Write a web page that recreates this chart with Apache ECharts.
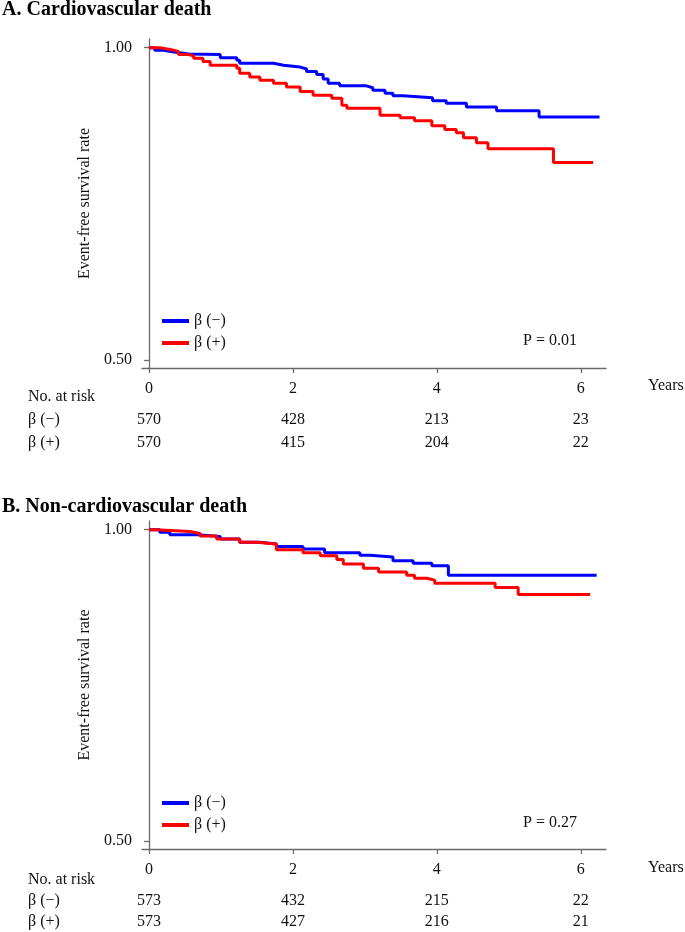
<!DOCTYPE html>
<html>
<head>
<meta charset="utf-8">
<script src="https://cdn.jsdelivr.net/npm/echarts@6/dist/echarts.min.js"></script>
<style>
html,body{margin:0;padding:0;background:#fff;}
#chart{width:685px;height:932px;}
</style>
</head>
<body>
<div id="chart"></div>
<script>
// ---------- data ----------
var groupNames = ['β (−)', 'β (+)'];
var xTicks = [0, 2, 4, 6];
var yTicks = [0.5, 1.0];

// Panel A: Cardiovascular death (time in years, survival)
var aNeg = [[0,1.0],[0.08,0.996],[0.2,0.993],[0.35,0.990],[0.55,0.989],[0.99,0.984],[1.22,0.980],[1.26,0.975],[1.73,0.972],[1.87,0.969],[2.10,0.966],[2.19,0.962],[2.33,0.957],[2.42,0.950],[2.49,0.943],[2.65,0.939],[3.02,0.936],[3.11,0.932],[3.28,0.927],[3.39,0.923],[3.53,0.920],[3.94,0.915],[4.13,0.911],[4.41,0.905],[4.83,0.899],[5.42,0.889],[6.26,0.889]];
var aPos = [[0,1.0],[0.15,0.997],[0.31,0.994],[0.41,0.989],[0.55,0.987],[0.62,0.983],[0.75,0.978],[0.85,0.972],[1.22,0.967],[1.26,0.959],[1.40,0.953],[1.54,0.948],[1.73,0.943],[1.91,0.937],[2.10,0.930],[2.28,0.924],[2.54,0.919],[2.68,0.908],[2.75,0.903],[3.21,0.892],[3.49,0.888],[3.69,0.883],[3.93,0.875],[4.11,0.869],[4.27,0.864],[4.37,0.856],[4.55,0.848],[4.71,0.838],[5.62,0.816],[6.17,0.816]];

// Panel B: Non-cardiovascular death
var bNeg = [[0,1.0],[0.15,0.996],[0.29,0.992],[0.68,0.989],[0.99,0.985],[1.26,0.980],[1.54,0.977],[1.77,0.973],[2.14,0.969],[2.44,0.963],[2.93,0.959],[3.07,0.956],[3.39,0.950],[3.67,0.946],[3.93,0.942],[4.16,0.927],[6.22,0.927]];
var bPos = [[0,1.0],[0.10,0.997],[0.57,0.994],[0.71,0.990],[0.94,0.985],[1.26,0.980],[1.50,0.977],[1.77,0.968],[2.14,0.963],[2.38,0.958],[2.61,0.952],[2.70,0.945],[2.98,0.938],[3.19,0.932],[3.58,0.927],[3.69,0.922],[3.86,0.919],[3.97,0.914],[4.81,0.907],[5.13,0.896],[6.13,0.896]];

// Numbers at risk
var riskTimes = [0, 2, 4, 6];
var riskANeg = [570, 428, 213, 23];
var riskAPos = [570, 415, 204, 22];
var riskBNeg = [573, 432, 215, 22];
var riskBPos = [573, 427, 216, 21];

var titleA = 'A. Cardiovascular death';
var titleB = 'B. Non-cardiovascular death';
var pA = 'P = 0.01';
var pB = 'P = 0.27';
var yName = 'Event-free survival rate';
var xName = 'Years';
var riskTitle = 'No. at risk';

// ---------- layout ----------
var FONT = '"Liberation Serif", "Times New Roman", serif';
var TXT = '#111111';
var AX = '#6a6a6a';
var BLUE = '#0000ff';
var RED = '#ff0000';
var XMIN = -0.097, XMAX = 6.35, YMIN = 0.487, YMAX = 1.014;
var L = 142, R = 79;

var panels = [
  {top: 39, h: 329, riskTop: 408, neg: aNeg, pos: aPos, rn: riskANeg, rp: riskAPos},
  {top: 521, h: 328, riskTop: 890, neg: bNeg, pos: bPos, rn: riskBNeg, rp: riskBPos}
];

var grid = [], xAxis = [], yAxis = [], series = [], legend = [];
panels.forEach(function (p, k) {
  var gi = k * 2;
  grid.push({left: L, right: R, top: p.top, height: p.h, containLabel: false});
  grid.push({left: L, right: R, top: p.riskTop, height: 46, containLabel: false});
  xAxis.push({
    type: 'value', gridIndex: gi, min: XMIN, max: XMAX,
    axisLine: {show: true, lineStyle: {color: AX, width: 1.3}},
    axisTick: {show: true, customValues: xTicks, length: 5, lineStyle: {color: AX, width: 1.3}},
    axisLabel: {show: true, customValues: xTicks, margin: 13, fontFamily: FONT, fontSize: 16, color: TXT},
    splitLine: {show: false}
  });
  xAxis.push({type: 'value', gridIndex: gi + 1, min: XMIN, max: XMAX, show: false});
  yAxis.push({
    type: 'value', gridIndex: gi, min: YMIN, max: YMAX,
    name: yName, nameLocation: 'middle', nameGap: 48,
    nameTextStyle: {fontFamily: FONT, fontSize: 16, color: TXT},
    axisLine: {show: true, lineStyle: {color: AX, width: 1.3}},
    axisTick: {show: true, customValues: yTicks, length: 5, lineStyle: {color: AX, width: 1.3}},
    axisLabel: {show: true, customValues: yTicks, margin: 10, fontFamily: FONT, fontSize: 16, color: TXT,
      formatter: function (v) { return Number(v).toFixed(2); }},
    splitLine: {show: false}
  });
  yAxis.push({
    type: 'category', gridIndex: gi + 1, data: groupNames, inverse: true,
    axisLine: {show: false}, axisTick: {show: false}, splitLine: {show: false},
    axisLabel: {show: true, align: 'left', margin: L - 28, fontFamily: FONT, fontSize: 16, color: TXT}
  });
  series.push({
    name: groupNames[0], type: 'line', step: 'end', xAxisIndex: gi, yAxisIndex: gi,
    data: p.neg, showSymbol: false, symbol: 'none', color: BLUE,
    lineStyle: {color: BLUE, width: 3}, z: 2, animation: false
  });
  series.push({
    name: groupNames[1], type: 'line', step: 'end', xAxisIndex: gi, yAxisIndex: gi,
    data: p.pos, showSymbol: false, symbol: 'none', color: RED,
    lineStyle: {color: RED, width: 3}, z: 3, animation: false
  });
  [p.rn, p.rp].forEach(function (arr, r) {
    series.push({
      type: 'scatter', xAxisIndex: gi + 1, yAxisIndex: gi + 1,
      symbol: 'circle', symbolSize: 0.5, itemStyle: {color: '#ffffff', opacity: 1}, silent: true, animation: false,
      data: riskTimes.map(function (t, i) { return [t, groupNames[r], arr[i]]; }),
      label: {show: true, position: 'inside', fontFamily: FONT, fontSize: 16, color: TXT, opacity: 1,
        formatter: function (pp) { return String(pp.value[2]); }}
    });
  });
  legend.push({
    orient: 'vertical', left: 162, top: p.top + 274, padding: 0,
    data: groupNames, icon: 'rect', itemWidth: 27, itemHeight: 4, itemGap: 6,
    textStyle: {fontFamily: FONT, fontSize: 16, color: TXT}, selectedMode: false
  });
});

var graphic = [
  {type: 'text', left: 2, top: 0, style: {text: titleA, font: 'bold 20px ' + FONT, fill: '#000'}},
  {type: 'text', left: 2, top: 497, style: {text: titleB, font: 'bold 20px ' + FONT, fill: '#000'}},
  {type: 'text', left: 523, top: 333, style: {text: pA, font: '16px ' + FONT, fill: TXT}},
  {type: 'text', left: 523, top: 815, style: {text: pB, font: '16px ' + FONT, fill: TXT}},
  {type: 'text', left: 648, top: 378, style: {text: xName, font: '16px ' + FONT, fill: TXT}},
  {type: 'text', left: 648, top: 860, style: {text: xName, font: '16px ' + FONT, fill: TXT}},
  {type: 'text', left: 28, top: 389, style: {text: riskTitle, font: '16px ' + FONT, fill: TXT}},
  {type: 'text', left: 28, top: 872, style: {text: riskTitle, font: '16px ' + FONT, fill: TXT}}
];

var chart = echarts.init(document.getElementById('chart'), null, {renderer: 'canvas'});
chart.setOption({
  backgroundColor: '#fff',
  animation: false,
  grid: grid, xAxis: xAxis, yAxis: yAxis, series: series, legend: legend, graphic: graphic
});
</script>
</body>
</html>
